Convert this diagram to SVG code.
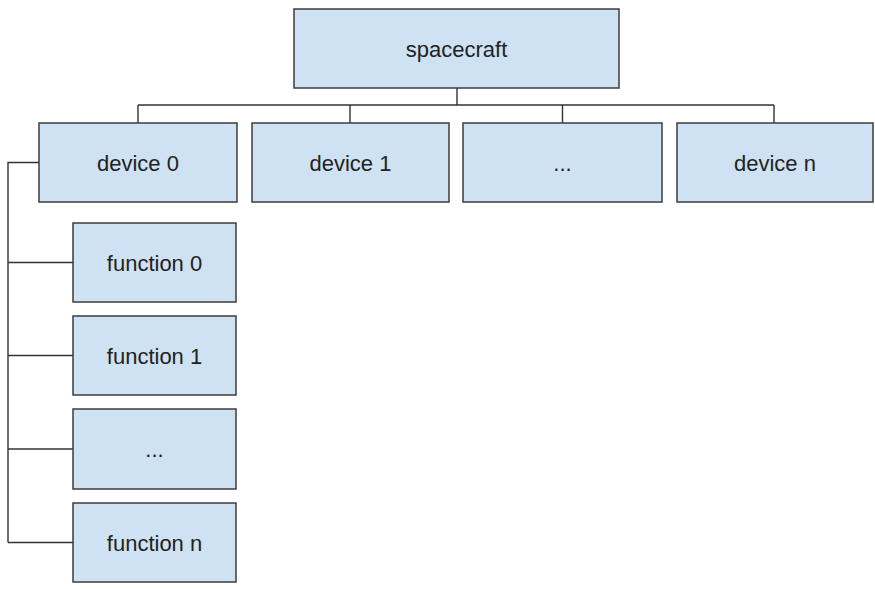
<svg xmlns="http://www.w3.org/2000/svg" width="875" height="589" viewBox="0 0 875 589">
  <style>
    .box { fill: #cfe2f3; stroke: #3d3d3d; stroke-width: 1.5; }
    .lbl { font-family: "Liberation Sans", Arial, sans-serif; font-size: 22px; fill: #222222; text-anchor: middle; }
    .wire { fill: none; stroke: #333333; stroke-width: 1.4; }
  </style>
  <rect width="875" height="589" fill="#ffffff"/>

  <!-- connectors -->
  <g id="connectors">
    <path class="wire" d="M457,88 V105 M138,105 H774 M138,105 V123 M350,105 V123 M562.5,105 V123 M774,105 V123"/>
    <path class="wire" d="M39,162.5 H8 V542.5 M8,262.5 H73 M8,355.5 H73 M8,449 H73 M8,542.5 H73"/>
  </g>

  <g id="spacecraft">
    <rect class="box" x="294" y="9" width="325" height="79"/>
    <text class="lbl" x="456.5" y="56.5">spacecraft</text>
  </g>

  <g id="device0">
    <rect class="box" x="39" y="123" width="198" height="79"/>
    <text class="lbl" x="138" y="170.5">device 0</text>
  </g>
  <g id="device1">
    <rect class="box" x="252" y="123" width="197" height="79"/>
    <text class="lbl" x="350.5" y="170.5">device 1</text>
  </g>
  <g id="device-ellipsis">
    <rect class="box" x="463" y="123" width="199" height="79"/>
    <text class="lbl" x="562.5" y="170.5">...</text>
  </g>
  <g id="device-n">
    <rect class="box" x="677" y="123" width="196" height="79"/>
    <text class="lbl" x="775" y="170.5">device n</text>
  </g>

  <g id="function0">
    <rect class="box" x="73" y="223" width="163" height="79"/>
    <text class="lbl" x="154.5" y="270.5">function 0</text>
  </g>
  <g id="function1">
    <rect class="box" x="73" y="316" width="163" height="79"/>
    <text class="lbl" x="154.5" y="363.5">function 1</text>
  </g>
  <g id="function-ellipsis">
    <rect class="box" x="73" y="409" width="163" height="80"/>
    <text class="lbl" x="154.5" y="457">...</text>
  </g>
  <g id="function-n">
    <rect class="box" x="73" y="503" width="163" height="79"/>
    <text class="lbl" x="154.5" y="550.5">function n</text>
  </g>
</svg>
